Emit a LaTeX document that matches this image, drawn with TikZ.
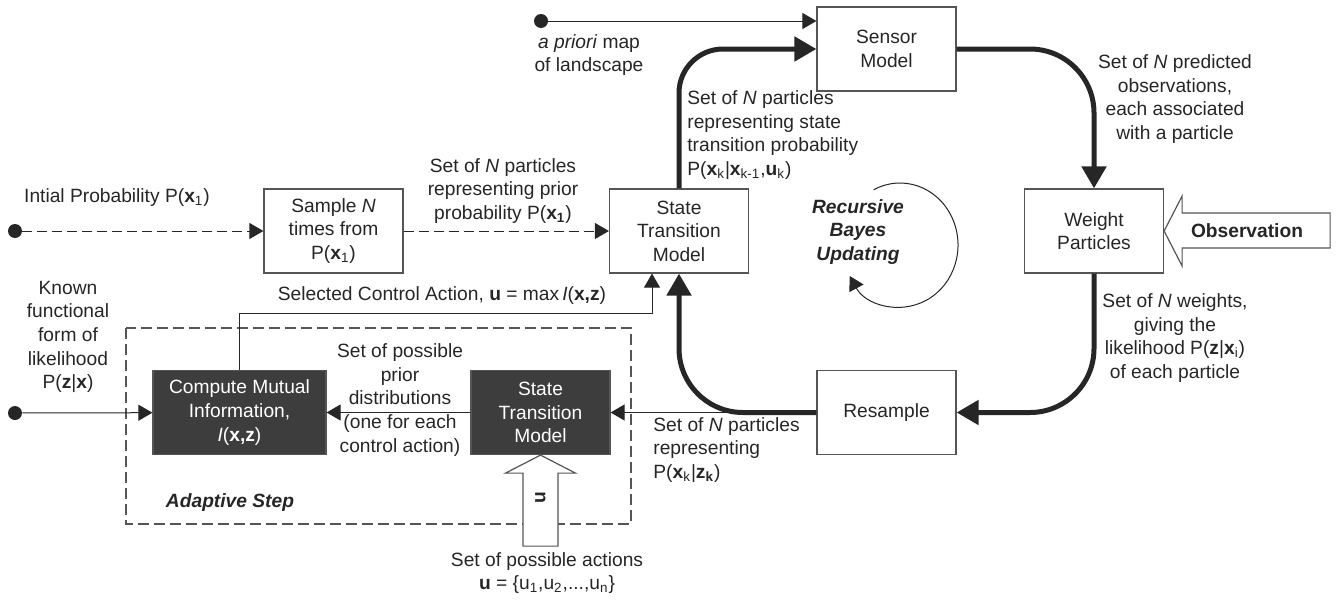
\documentclass[tikz,border=0pt]{standalone}
\usepackage{fontspec}
\setmainfont{Liberation Sans}
\usepackage{xcolor}
\usepackage{tikz}
\usetikzlibrary{arrows.meta,positioning}
\definecolor{ink}{HTML}{262626}
\definecolor{edge}{HTML}{555555}
\definecolor{shade}{HTML}{3D3D3D}
\newcommand{\vb}[1]{\textbf{#1}}

\begin{document}
\begin{tikzpicture}[x=0.5pt,y=-0.5pt,>={Triangle[length=7pt,width=8pt]},
  every node/.style={font=\fontsize{9.6}{11.8}\selectfont,text=ink},
  box/.style={draw=edge,line width=0.6pt,fill=white,minimum width=69.5pt,minimum height=42pt,align=center},
  darkbox/.style={box,fill=shade,text=white},
  dot/.style={circle,fill=ink,inner sep=0pt,minimum size=7pt},
  link/.style={->,draw=ink,line width=0.5pt},
  dashlink/.style={link,dash pattern=on 5pt off 2.5pt},
  flow/.style={-{Triangle[length=11pt,width=12pt]},draw=ink,line width=2.5pt,rounded corners=32pt},
  lbl/.style={align=center,inner sep=0pt}]
\useasboundingbox (0,0) rectangle (1342,600);
% adaptive step frame
\draw[edge,line width=0.6pt,dash pattern=on 5.5pt off 2.5pt] (126,328) rectangle (631,524);
\node[lbl,font=\fontsize{9.6}{11.8}\selectfont\bfseries\itshape] (adaptlbl) at (230,503) {Adaptive Step};
% blocks
\node[box] (sample) at (333.5,231) {Sample \textit{N}\\times from\\P(\vb{x}\textsubscript{1})};
\node[box] (stm) at (679,231) {State\\Transition\\Model};
\node[box] (sensor) at (886.5,49) {Sensor\\Model};
\node[box] (weight) at (1094,231) {Weight\\Particles};
\node[box] (resample) at (886.5,412.5) {Resample};
\node[darkbox,minimum width=86.5pt] (cmi) at (239.5,412.5) {Compute Mutual\\Information,\\\textit{I}(\vb{x,z})};
\node[darkbox] (stmb) at (540.5,412.5) {State\\Transition\\Model};
% inputs
\node[dot] (init) at (15,231) {};
\node[dot] (known) at (15,413) {};
\node[dot] (apriori) at (541,21) {};
\node[lbl] (initlbl) at (117,198) {Intial Probability P(\vb{x}\textsubscript{1})};
\node[lbl] (knownlbl) at (68,337) {Known\\functional\\form of\\likelihood\\P(\vb{z}|\vb{x})};
\node[lbl] (apriorilbl) at (589,55) {\textit{a priori} map\\of landscape};
% thin connectors
\draw[dashlink] (init) -- (sample);
\draw[dashlink] (sample) -- (stm);
\draw[link] (apriori) -- (sensor.west |- apriori);
\draw[link] (known) -- (cmi);
\draw[link] (stmb) -- (cmi);
\draw[link] (resample.west) -- (stmb.east);
\draw[link] (cmi.north) -- ++(0,-56) -| ([xshift=-13.5pt]stm.south);
% recursive loop
\draw[flow,rounded corners=22pt] (stm.north) |- (sensor.west);
\draw[flow] (sensor.east) -| (weight.north);
\draw[flow] (weight.south) |- (resample.east);
\draw[flow] (resample.west) -| (stm.south);
\coordinate (loop) at (900,245);
\draw[link] (loop) ++(-117:58 and 62) arc[start angle=-117,end angle=150,x radius=58,y radius=62];
\node[lbl,font=\fontsize{9.6}{11.8}\selectfont\bfseries\itshape] (bayes) at (858,232) {Recursive\\Bayes\\Updating};
% open arrows
\draw[edge,line width=0.6pt,fill=white] (weight.east) -- ++(18,-35) -- ++(0,17) -- ++(148,0) -- ++(0,35) -- ++(-148,0) -- ++(0,18) -- cycle;
\node[lbl,font=\fontsize{9.6}{11.8}\selectfont\bfseries] (obs) at (1247,231) {Observation};
\draw[edge,line width=0.6pt,fill=white] (stmb.south) -- ++(-35,18) -- ++(17.5,0) -- ++(0,73) -- ++(35,0) -- ++(0,-73) -- ++(17.5,0) -- cycle;
\node[lbl,rotate=90] (uin) at (540.5,498) {\vb{u}};
% labels
\node[lbl] (priorlbl) at (503,191) {Set of \textit{N} particles\\representing prior\\probability P(\vb{x\textsubscript{1}})};
\node[lbl,align=left,anchor=west] (translbl) at (687,135) {Set of \textit{N} particles\\representing state\\transition probability\\P(\vb{x}\textsubscript{k}|\vb{x}\textsubscript{k-1},\vb{u}\textsubscript{k})};
\node[lbl] (predlbl) at (1175,99) {Set of \textit{N} predicted\\observations,\\each associated\\with a particle};
\node[lbl] (weightlbl) at (1175,338) {Set of \textit{N} weights,\\giving the\\likelihood P(\vb{z}|\vb{x}\textsubscript{i})\\of each particle};
\node[lbl,align=left,anchor=west] (postlbl) at (653,450) {Set of \textit{N} particles\\representing\\P(\vb{x}\textsubscript{k}|\vb{z\textsubscript{k}})};
\node[lbl] (selectlbl) at (442,296) {Selected Control Action, \vb{u} = max\,\textit{I}(\vb{x,z})};
\node[lbl] (distlbl) at (400,400) {Set of possible\\prior\\distributions\\(one for each\\control action)};
\node[lbl] (actlbl) at (547,573) {Set of possible actions\\\vb{u} = \{u\textsubscript{1},u\textsubscript{2},...,u\textsubscript{n}\}};
\end{tikzpicture}
\end{document}
